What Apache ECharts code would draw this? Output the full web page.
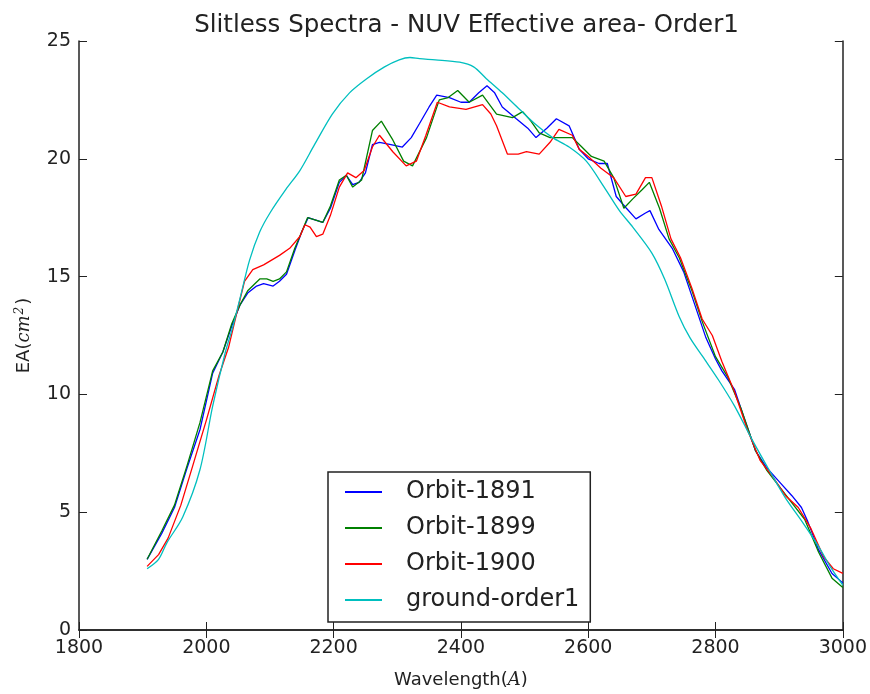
<!DOCTYPE html>
<html>
<head>
<meta charset="utf-8">
<script src="https://cdn.jsdelivr.net/npm/echarts@6/dist/echarts.min.js"></script>
<style>
html,body{margin:0;padding:0;background:#fff;}
#chart{width:870px;height:694px;}
</style>
</head>
<body>
<div id="chart"></div>
<script>
var titleText = 'Slitless Spectra - NUV Effective area- Order1';
var seriesNames = ['Orbit-1891', 'Orbit-1899', 'Orbit-1900', 'ground-order1'];
var xTicks = [1800, 2000, 2200, 2400, 2600, 2800, 3000];
var yTicks = [0, 5, 10, 15, 20, 25];

var wl1891 = [1907,1930,1950,1970,1990,2010,2026,2040,2053,2065,2079,2090,2105,2115,2126,2139,2150,2160,2172,2183,2195,2209,2220,2230,2240,2250,2261,2272,2290,2308,2322,2335,2350,2362,2382,2400,2413,2428,2441,2453,2465,2487,2505,2518,2535,2550,2570,2586,2600,2617,2630,2644,2660,2675,2690,2697,2711,2732,2750,2765,2785,2800,2810,2830,2845,2863,2880,2900,2920,2935,2945,2962,2983,3000];
var ea1891 = [3.0,4.1,5.2,6.9,8.5,10.9,11.8,12.9,13.8,14.3,14.6,14.7,14.6,14.8,15.1,16.1,16.9,17.5,17.4,17.3,17.9,19.0,19.3,18.9,19.0,19.4,20.6,20.7,20.6,20.5,20.9,21.5,22.2,22.7,22.6,22.4,22.4,22.8,23.1,22.8,22.2,21.7,21.3,20.9,21.3,21.7,21.4,20.4,20.0,19.8,19.8,18.4,17.9,17.45,17.7,17.8,17.0,16.2,15.2,14.0,12.4,11.5,11.0,10.2,9.0,7.6,6.9,6.3,5.7,5.2,4.6,3.4,2.4,2.0];

var wl1899 = [1907,1930,1950,1970,1990,2010,2026,2040,2053,2065,2084,2095,2105,2115,2126,2139,2150,2159,2172,2183,2195,2209,2220,2230,2244,2261,2275,2293,2310,2324,2346,2366,2380,2395,2413,2434,2456,2481,2497,2510,2523,2540,2554,2575,2590,2605,2625,2640,2656,2670,2685,2696,2712,2727,2743,2763,2779,2800,2820,2840,2863,2880,2900,2920,2940,2962,2983,3000];
var ea1899 = [3.0,4.2,5.3,7.0,8.8,11.0,11.8,13.0,13.8,14.4,14.9,14.9,14.8,14.9,15.2,16.2,16.9,17.5,17.4,17.3,18.0,19.1,19.3,18.8,19.1,21.2,21.6,20.8,19.9,19.7,20.9,22.5,22.6,22.9,22.4,22.7,21.9,21.75,22.0,21.6,21.1,20.9,20.9,20.9,20.5,20.1,19.9,19.2,17.9,18.3,18.7,19.0,17.9,16.6,15.8,14.4,13.1,11.6,10.7,9.4,7.6,6.8,6.1,5.4,4.7,3.3,2.2,1.8];

var wl1900 = [1907,1925,1940,1960,1979,2000,2020,2035,2050,2060,2073,2090,2115,2131,2147,2155,2163,2173,2183,2195,2209,2222,2235,2248,2261,2272,2293,2314,2330,2345,2363,2382,2408,2434,2447,2456,2473,2490,2503,2523,2540,2554,2575,2586,2600,2620,2640,2659,2675,2690,2700,2715,2730,2745,2763,2779,2795,2810,2830,2850,2870,2890,2910,2930,2950,2970,2985,3000];
var ea1900 = [2.7,3.2,3.9,5.3,7.0,8.9,10.8,12.0,13.7,14.8,15.3,15.5,15.9,16.2,16.7,17.2,17.1,16.7,16.8,17.6,18.8,19.4,19.2,19.5,20.5,21.0,20.3,19.7,19.9,21.0,22.4,22.2,22.1,22.3,21.9,21.4,20.2,20.2,20.3,20.2,20.7,21.25,21.0,20.4,20.1,19.6,19.2,18.4,18.5,19.2,19.2,18.0,16.6,15.8,14.5,13.2,12.5,11.4,10.1,8.5,7.2,6.5,5.7,5.2,4.3,3.1,2.6,2.4];

var wlGround = [1907,1925,1938,1963,1990,2010,2030,2042,2055,2068,2084,2100,2125,2147,2170,2198,2225,2252,2280,2303,2320,2335,2360,2398,2420,2440,2465,2492,2520,2544,2570,2597,2625,2649,2670,2700,2720,2743,2760,2780,2805,2830,2857,2884,2910,2936,2963,2980,3000];
var eaGround = [2.6,3.0,3.7,4.8,6.8,9.5,11.8,12.9,14.3,15.7,16.9,17.7,18.7,19.5,20.6,21.9,22.8,23.4,23.9,24.2,24.3,24.25,24.2,24.1,23.9,23.4,22.8,22.1,21.4,20.9,20.5,19.9,18.8,17.8,17.1,16.0,14.9,13.3,12.4,11.6,10.6,9.5,8.1,6.8,5.6,4.6,3.5,2.7,1.9];

var colors = ['#0000ff', '#008000', '#ff0000', '#00bfbf'];
var smoothing = [0, 0, 0, 0.3];
var wls = [wl1891, wl1899, wl1900, wlGround];
var eas = [ea1891, ea1899, ea1900, eaGround];

function pairs(xs, ys) {
  var out = [];
  for (var i = 0; i < xs.length; i++) out.push([xs[i], ys[i]]);
  return out;
}

var FONT = 'DejaVu Sans';
var TXT = '#222';
var chart = echarts.init(document.getElementById('chart'), null, {renderer: 'canvas'});

var series = seriesNames.map(function (name, i) {
  return {
    name: name,
    type: 'line',
    xAxisIndex: 0,
    yAxisIndex: 0,
    data: pairs(wls[i], eas[i]),
    showSymbol: false,
    symbol: 'none',
    smooth: smoothing[i],
    lineStyle: {color: colors[i], width: 1.3},
    itemStyle: {color: colors[i]},
    animation: false,
    z: 2 + i
  };
});

var axisLineStyle = {color: TXT, width: 1.5};
var tickStyle = {show: true, inside: true, length: 8, lineStyle: {color: TXT, width: 1}};

chart.setOption({
  animation: false,
  backgroundColor: '#fff',
  title: {
    text: titleText,
    left: 461.5,
    top: 8,
    textAlign: 'center',
    textStyle: {fontFamily: FONT, fontSize: 24.5, fontWeight: 'normal', color: TXT}
  },
  grid: {left: 79, right: 26, top: 41, bottom: 60, containLabel: false},
  legend: {
    data: seriesNames,
    orient: 'vertical',
    left: 328,
    top: 472,
    padding: [2, 11, 4, 17],
    itemGap: 0,
    itemWidth: 37,
    itemHeight: 2,
    icon: 'rect',
    borderColor: TXT,
    borderWidth: 1.5,
    borderRadius: 0,
    backgroundColor: '#fff',
    textStyle: {fontFamily: FONT, fontSize: 24, color: TXT, lineHeight: 36, padding: [0, 0, 0, 19]}
  },
  xAxis: [{
    type: 'value',
    min: xTicks[0],
    max: xTicks[xTicks.length - 1],
    interval: 200,
    position: 'bottom',
    name: '{n|Wavelength(}{i|A}{n|)}',
    nameLocation: 'middle',
    nameGap: 41,
    nameTextStyle: {
      fontFamily: FONT, fontSize: 18, color: TXT,
      rich: {
        n: {fontFamily: FONT, fontSize: 18, color: TXT},
        i: {fontFamily: 'DejaVu Serif', fontStyle: 'italic', fontSize: 18, color: TXT}
      }
    },
    axisLine: {show: true, lineStyle: axisLineStyle},
    axisTick: tickStyle,
    axisLabel: {fontFamily: FONT, fontSize: 19, color: TXT, margin: 9, formatter: function (v) { return String(v); }},
    splitLine: {show: false}
  }, {
    type: 'value',
    min: xTicks[0],
    max: xTicks[xTicks.length - 1],
    interval: 200,
    position: 'top',
    axisLine: {show: true, lineStyle: axisLineStyle},
    axisTick: tickStyle,
    axisLabel: {show: false},
    splitLine: {show: false}
  }],
  yAxis: [{
    type: 'value',
    min: yTicks[0],
    max: yTicks[yTicks.length - 1],
    interval: 5,
    position: 'left',
    name: '{n|EA(}{i|cm}{s|2}{n|)}',
    nameLocation: 'middle',
    nameGap: 45,
    nameRotate: 90,
    nameTextStyle: {
      fontFamily: FONT, fontSize: 18, color: TXT,
      rich: {
        n: {fontFamily: FONT, fontSize: 18, color: TXT},
        i: {fontFamily: 'DejaVu Serif', fontStyle: 'italic', fontSize: 18, color: TXT},
        s: {fontFamily: 'DejaVu Serif', fontStyle: 'italic', fontSize: 12, color: TXT, verticalAlign: 'top', padding: [0, 2, 8, 1]}
      }
    },
    axisLine: {show: true, lineStyle: axisLineStyle},
    axisTick: tickStyle,
    axisLabel: {fontFamily: FONT, fontSize: 19, color: TXT, margin: 8},
    splitLine: {show: false}
  }, {
    type: 'value',
    min: yTicks[0],
    max: yTicks[yTicks.length - 1],
    interval: 5,
    position: 'right',
    axisLine: {show: true, lineStyle: axisLineStyle},
    axisTick: tickStyle,
    axisLabel: {show: false},
    splitLine: {show: false}
  }],
  series: series
});
</script>
</body>
</html>
